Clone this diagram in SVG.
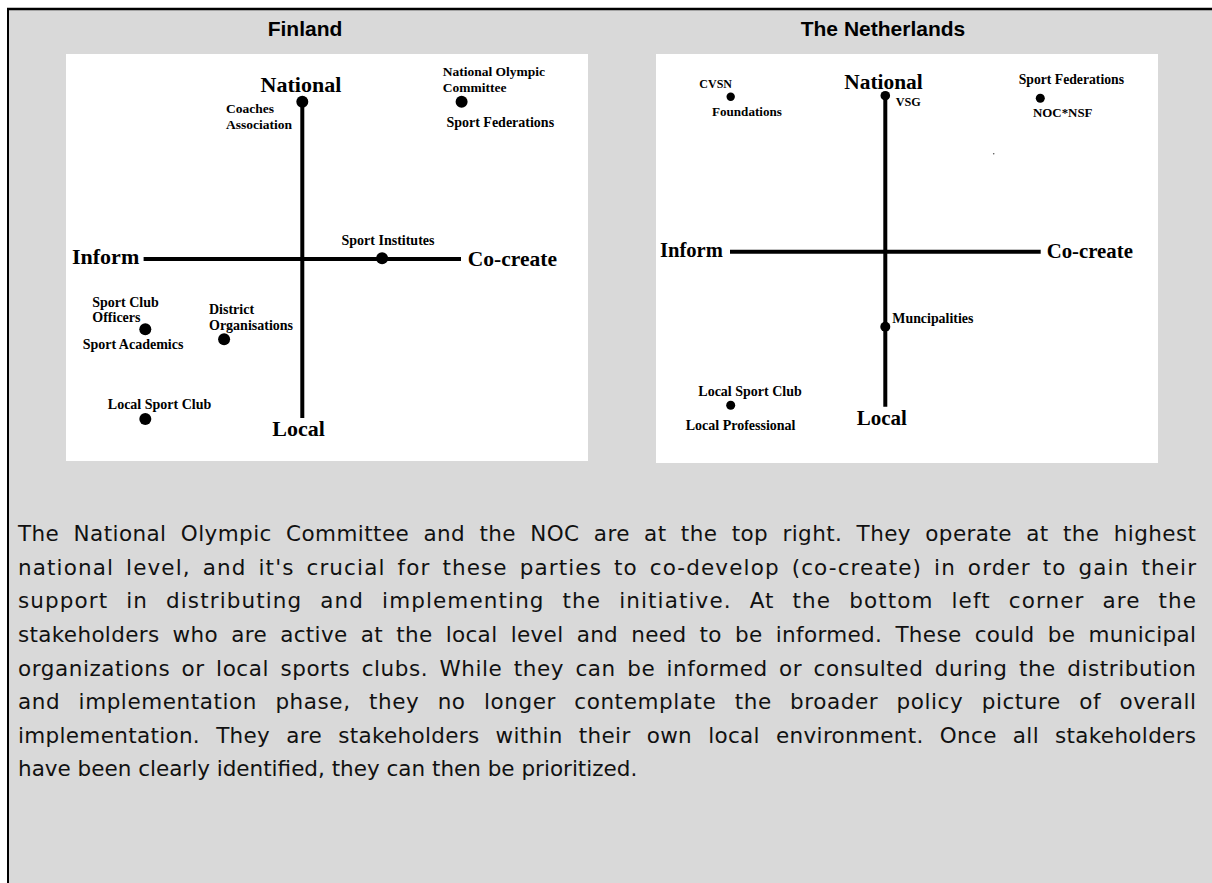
<svg xmlns="http://www.w3.org/2000/svg" width="1212" height="883" viewBox="0 0 1212 883">
<style>
.bg{fill:#d9d9d9}
.panel{fill:#ffffff}
.title{font-family:"Liberation Sans",Arial,sans-serif;font-weight:bold;font-size:21px;fill:#000;text-anchor:middle}
.ax{font-family:"Liberation Serif","Times New Roman",serif;font-weight:bold;fill:#000}
.lb{font-family:"Liberation Serif","Times New Roman",serif;font-weight:bold;fill:#000}
.axis{stroke:#000;stroke-width:4;fill:none}
.dot{fill:#000}
.para{font-family:"DejaVu Sans",Verdana,sans-serif;font-size:21.5px;fill:#111}
</style>
<rect x="0" y="0" width="1212" height="883" fill="#ffffff"/>
<rect class="bg" x="8" y="9" width="1204" height="874"/>
<line x1="7" y1="9" x2="1212" y2="9" stroke="#000" stroke-width="2.5"/>
<line x1="8" y1="8" x2="8" y2="883" stroke="#000" stroke-width="2"/>

<text class="title" x="305" y="36">Finland</text>
<text class="title" x="883" y="36">The Netherlands</text>

<!-- Finland panel -->
<g id="finland">
<rect class="panel" x="66" y="54" width="522" height="407"/>
<g id="fi-connectors">
<line class="axis" x1="302.3" y1="101" x2="302.3" y2="418"/>
<line class="axis" x1="143.6" y1="259" x2="461" y2="259"/>
</g>
<g id="fi-national"><text class="ax" x="260.6" y="92" font-size="22">National</text></g>
<g id="fi-local"><text class="ax" x="272.3" y="436" font-size="22">Local</text></g>
<g id="fi-inform"><text class="ax" x="72" y="264" font-size="22">Inform</text></g>
<g id="fi-cocreate"><text class="ax" x="467.8" y="266" font-size="21.5">Co-create</text></g>
<g id="fi-coaches"><circle class="dot" cx="302.3" cy="101.7" r="6"/>
<text class="lb" x="225.9" y="113.3" font-size="13.5">Coaches</text>
<text class="lb" x="225.9" y="129" font-size="13.5">Association</text></g>
<g id="fi-noc"><circle class="dot" cx="461.6" cy="101.7" r="6"/>
<text class="lb" x="442.7" y="76" font-size="13.5">National Olympic</text>
<text class="lb" x="442.7" y="91.7" font-size="13.5">Committee</text>
<text class="lb" x="446.4" y="126.7" font-size="14">Sport Federations</text></g>
<g id="fi-institutes"><circle class="dot" cx="382.1" cy="258.3" r="6"/>
<text class="lb" x="341.5" y="245" font-size="14">Sport Institutes</text></g>
<g id="fi-clubofficers"><circle class="dot" cx="145.3" cy="329.3" r="6"/>
<text class="lb" x="92.3" y="306.7" font-size="14">Sport Club</text>
<text class="lb" x="92.3" y="321.7" font-size="14">Officers</text>
<text class="lb" x="82.7" y="349.3" font-size="14">Sport Academics</text></g>
<g id="fi-district"><circle class="dot" cx="224.1" cy="339.3" r="6"/>
<text class="lb" x="209" y="314" font-size="14">District</text>
<text class="lb" x="209" y="330" font-size="14">Organisations</text></g>
<g id="fi-localclub"><circle class="dot" cx="145.3" cy="419" r="6"/>
<text class="lb" x="107.8" y="409.3" font-size="14">Local Sport Club</text></g>
</g>

<!-- Netherlands panel -->
<g id="netherlands">
<rect class="panel" x="656" y="54" width="502" height="409"/>
<g id="nl-connectors">
<line class="axis" x1="885.3" y1="96" x2="885.3" y2="406.7"/>
<line class="axis" x1="730" y1="251.7" x2="1040.7" y2="251.7"/>
</g>
<g id="nl-national"><text class="ax" x="844.3" y="89" font-size="21.4">National</text></g>
<g id="nl-local"><text class="ax" x="856.7" y="425" font-size="21">Local</text></g>
<g id="nl-inform"><text class="ax" x="660" y="256.7" font-size="20.6">Inform</text></g>
<g id="nl-cocreate"><text class="ax" x="1046.7" y="258.3" font-size="20.8">Co-create</text></g>
<g id="nl-vsg"><circle class="dot" cx="885.3" cy="95.7" r="4.8"/>
<text class="lb" x="895.7" y="105.7" font-size="12.2">VSG</text></g>
<g id="nl-cvsn"><circle class="dot" cx="730.7" cy="96.7" r="4.2"/>
<text class="lb" x="699.3" y="88.3" font-size="12">CVSN</text>
<text class="lb" x="712" y="115.7" font-size="13.1">Foundations</text></g>
<g id="nl-federations"><circle class="dot" cx="1040.3" cy="98.3" r="4.5"/>
<text class="lb" x="1018.7" y="84" font-size="13.7">Sport Federations</text>
<text class="lb" x="1033" y="116.7" font-size="12.9">NOC*NSF</text></g>
<circle cx="993.7" cy="153.7" r="0.8" fill="#555"/>
<g id="nl-municipalities"><circle class="dot" cx="885.3" cy="326.7" r="5"/>
<text class="lb" x="892.3" y="322.7" font-size="13.9">Muncipalities</text></g>
<g id="nl-localclub"><circle class="dot" cx="730.7" cy="405.3" r="4.5"/>
<text class="lb" x="698.3" y="395.7" font-size="14">Local Sport Club</text>
<text class="lb" x="685.7" y="430" font-size="14">Local Professional</text></g>
</g>

<!-- Paragraph -->
<g id="paragraph">
<text class="para" x="18" y="541" word-spacing="7" textLength="1178" lengthAdjust="spacing">The National Olympic Committee and the NOC are at the top right. They operate at the highest</text>
<text class="para" x="18" y="575" word-spacing="4" textLength="1178" lengthAdjust="spacing">national level, and it's crucial for these parties to co-develop (co-create) in order to gain their</text>
<text class="para" x="18" y="608" word-spacing="10" textLength="1178" lengthAdjust="spacing">support in distributing and implementing the initiative. At the bottom left corner are the</text>
<text class="para" x="18" y="642" word-spacing="6" textLength="1178" lengthAdjust="spacing">stakeholders who are active at the local level and need to be informed. These could be municipal</text>
<text class="para" x="18" y="676" word-spacing="4" textLength="1178" lengthAdjust="spacing">organizations or local sports clubs. While they can be informed or consulted during the distribution</text>
<text class="para" x="18" y="709" word-spacing="11" textLength="1178" lengthAdjust="spacing">and implementation phase, they no longer contemplate the broader policy picture of overall</text>
<text class="para" x="18" y="743" word-spacing="9" textLength="1178" lengthAdjust="spacing">implementation. They are stakeholders within their own local environment. Once all stakeholders</text>
<text class="para" x="18" y="776">have been clearly identified, they can then be prioritized.</text>
</g>
</svg>
